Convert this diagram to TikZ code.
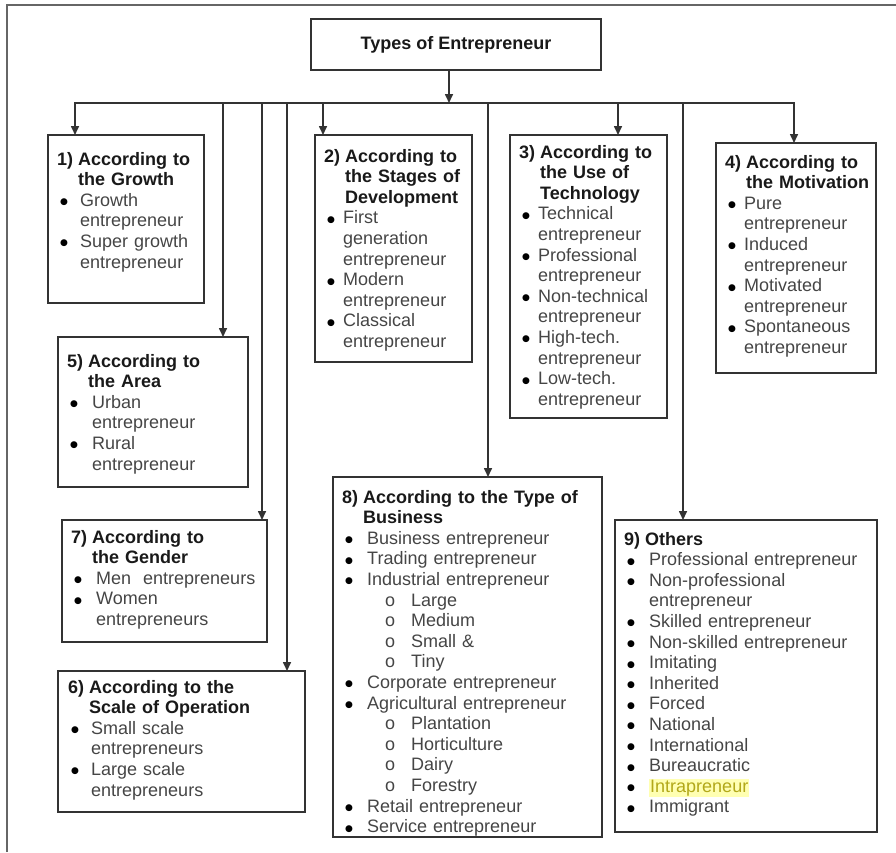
\documentclass[tikz,border=0pt]{standalone}
\usepackage{fontspec}
\setmainfont{Liberation Sans}
\newfontfamily\bulfont{DejaVu Sans}
\usetikzlibrary{arrows.meta}

\definecolor{boxline}{rgb}{0.200000, 0.200000, 0.200000}
\definecolor{framegray}{rgb}{0.400000, 0.400000, 0.400000}
\definecolor{headblack}{rgb}{0.100000, 0.100000, 0.100000}
\definecolor{itemgray}{rgb}{0.270000, 0.270000, 0.270000}
\definecolor{hiyellow}{rgb}{1.000000, 1.000000, 0.700000}
\definecolor{hitext}{rgb}{0.700000, 0.660000, 0.100000}

\newcommand{\bodyfont}{\fontsize{18}{20.6}\selectfont}
\newlength{\numw}\setlength{\numw}{21pt}
\newlength{\bulx}\setlength{\bulx}{3pt}
\newlength{\bulw}\setlength{\bulw}{19pt}
% heading of a box: number, then text with hanging indent
\newcommand{\cathead}[2]{\noindent\hangindent=\numw\hangafter=1%
  \textcolor{headblack}{\bfseries\makebox[\numw][l]{#1}#2}\par}
% bullet item
\newcommand{\catitem}[1]{\par\noindent\hangindent=\dimexpr\bulx+\bulw\relax\hangafter=1%
  \hspace*{\bulx}\makebox[\bulw][l]{\raisebox{1.5pt}{\bulfont\fontsize{9}{9}\selectfont\textcolor{black}{●}}}#1\par}
% sub item
\newcommand{\catsub}[1]{\par\noindent\hspace*{43pt}\makebox[26pt][l]{o}#1\par}

\tikzset{
  titlebox/.style={draw=boxline, line width=2pt, inner sep=0pt,
    minimum width=290pt, minimum height=51pt, text=headblack,
    font=\bfseries\bodyfont},
  catbox/.style={draw=boxline, line width=2pt, inner sep=0pt, outer sep=0pt,
    anchor=north west},
  cattext/.style={anchor=base west, inner sep=0pt, text width=#1,
    font=\bodyfont, text=itemgray},
  busline/.style={draw=boxline, line width=1.6pt, line cap=rect},
  arr/.style={draw=boxline, line width=1.6pt,
    -{Stealth[length=9pt,width=8pt,inset=0pt]}},
  frame/.style={draw=framegray, line width=2pt}
}

\begin{document}
\begin{tikzpicture}[x=1pt, y=-1pt]
\useasboundingbox (0,0) rectangle (896,852);
\draw[frame] (7,852) -- (7,5) -- (896,5);

\node[titlebox] (title) at (456,44.5) {Types of Entrepreneur};

% the boxes
\node[catbox, minimum width=156pt, minimum height=168pt] (b1) at (48,135) {};
\node[catbox, minimum width=157pt, minimum height=227pt] (b2) at (315,135) {};
\node[catbox, minimum width=157pt, minimum height=283pt] (b3) at (510,135) {};
\node[catbox, minimum width=160pt, minimum height=230pt] (b4) at (716,143) {};
\node[catbox, minimum width=190pt, minimum height=150pt] (b5) at (58,337) {};
\node[catbox, minimum width=205pt, minimum height=122pt] (b7) at (62,520) {};
\node[catbox, minimum width=247pt, minimum height=141pt] (b6) at (58,671) {};
\node[catbox, minimum width=269pt, minimum height=360pt] (b8) at (333,477) {};
\node[catbox, minimum width=262pt, minimum height=312pt] (b9) at (615,520) {};

\node[cattext=144pt] (t1) at ([shift={(9,30)}]b1.north west) {\setlength{\bulw}{20pt}%
  \cathead{1)}{According to\newline the Growth}
  \catitem{Growth\newline entrepreneur}
  \catitem{Super growth\newline entrepreneur}};
\node[cattext=145pt] (t2) at ([shift={(9,27)}]b2.north west) {\setlength{\bulw}{16pt}%
  \cathead{2)}{According to\newline the Stages of\newline Development}
  \catitem{First\newline generation\newline entrepreneur}
  \catitem{Modern\newline entrepreneur}
  \catitem{Classical\newline entrepreneur}};
\node[cattext=145pt] (t3) at ([shift={(9,23)}]b3.north west) {\setlength{\bulw}{16pt}%
  \cathead{3)}{According to\newline the Use of\newline Technology}
  \catitem{Technical\newline entrepreneur}
  \catitem{Professional\newline entrepreneur}
  \catitem{Non-technical\newline entrepreneur}
  \catitem{High-tech.\newline entrepreneur}
  \catitem{Low-tech.\newline entrepreneur}};
\node[cattext=148pt] (t4) at ([shift={(9,25)}]b4.north west) {\setlength{\bulw}{16pt}%
  \cathead{4)}{According to\newline the Motivation}
  \catitem{Pure\newline entrepreneur}
  \catitem{Induced\newline entrepreneur}
  \catitem{Motivated\newline entrepreneur}
  \catitem{Spontaneous\newline entrepreneur}};
\node[cattext=178pt] (t5) at ([shift={(9,30)}]b5.north west) {\setlength{\bulw}{22pt}%
  \cathead{5)}{According to\newline the Area}
  \catitem{Urban\newline entrepreneur}
  \catitem{Rural\newline entrepreneur}};
\node[cattext=193pt] (t7) at ([shift={(9,23)}]b7.north west) {\setlength{\bulw}{22pt}%
  \cathead{7)}{According to\newline the Gender}
  \catitem{Men\ \ entrepreneurs}
  \catitem{Women\newline entrepreneurs}};
\node[cattext=235pt] (t6) at ([shift={(10,22)}]b6.north west) {\setlength{\bulw}{20pt}%
  \cathead{6)}{According to the\newline Scale of Operation}
  \catitem{Small scale\newline entrepreneurs}
  \catitem{Large scale\newline entrepreneurs}};
\node[cattext=257pt] (t8) at ([shift={(9,26)}]b8.north west) {\setlength{\bulw}{22pt}%
  \cathead{8)}{According to the Type of\newline Business}
  \catitem{Business entrepreneur}
  \catitem{Trading entrepreneur}
  \catitem{Industrial entrepreneur}
  \catsub{Large}
  \catsub{Medium}
  \catsub{Small \&}
  \catsub{Tiny}
  \catitem{Corporate entrepreneur}
  \catitem{Agricultural entrepreneur}
  \catsub{Plantation}
  \catsub{Horticulture}
  \catsub{Dairy}
  \catsub{Forestry}
  \catitem{Retail entrepreneur}
  \catitem{Service entrepreneur}};
\node[cattext=250pt] (t9) at ([shift={(9,25)}]b9.north west) {\setlength{\bulw}{22pt}%
  \cathead{9)}{Others}
  \catitem{Professional entrepreneur}
  \catitem{Non-professional\newline entrepreneur}
  \catitem{Skilled entrepreneur}
  \catitem{Non-skilled entrepreneur}
  \catitem{Imitating}
  \catitem{Inherited}
  \catitem{Forced}
  \catitem{National}
  \catitem{International}
  \catitem{Bureaucratic}
  \catitem{{\setlength{\fboxsep}{1pt}\colorbox{hiyellow}{\textcolor{hitext}{Intrapreneur}}}}
  \catitem{Immigrant}};

% bus and drops
\coordinate (busL) at (75,103);
\coordinate (busR) at (794,103);
\coordinate (busmid) at (449,103);
\coordinate (c5) at (223,103);
\coordinate (c7) at (262,103);
\coordinate (c6) at (287,103);
\coordinate (c2) at (323,103);
\coordinate (c8) at (488,103);
\coordinate (c3) at (618,103);
\coordinate (c9) at (683,103);

\draw[arr] (title.south -| busmid) -- (busmid);
\draw[busline] (busL) -- (busR);
\draw[arr] (busL) -- (busL |- b1.north);
\draw[arr] (c5) -- (c5 |- b5.north);
\draw[arr] (c7) -- (c7 |- b7.north);
\draw[arr] (c6) -- (c6 |- b6.north);
\draw[arr] (c2) -- (c2 |- b2.north);
\draw[arr] (c8) -- (c8 |- b8.north);
\draw[arr] (c3) -- (c3 |- b3.north);
\draw[arr] (c9) -- (c9 |- b9.north);
\draw[arr] (busR) -- (busR |- b4.north);
\end{tikzpicture}
\end{document}
